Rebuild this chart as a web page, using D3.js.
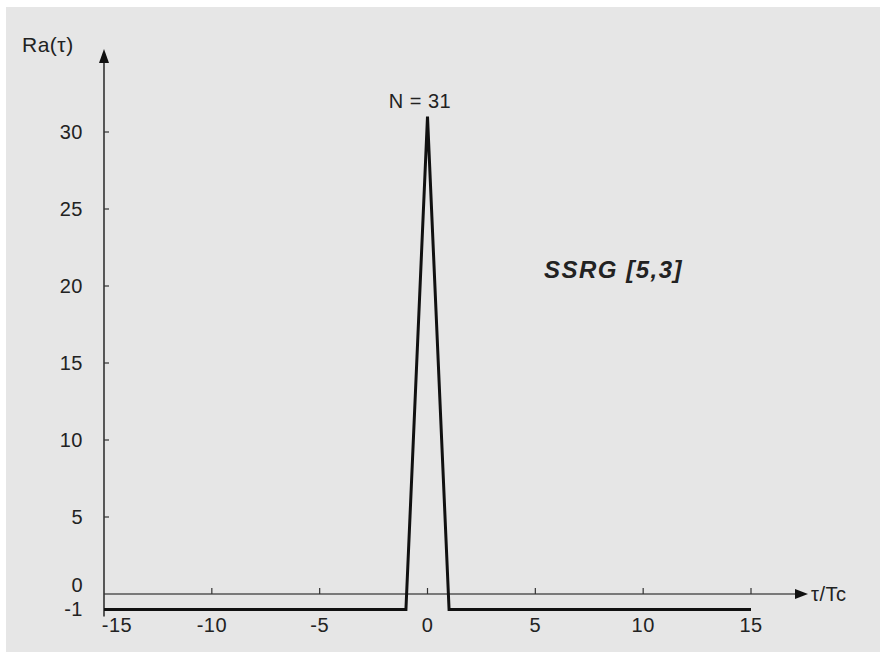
<!DOCTYPE html>
<html>
<head>
<meta charset="utf-8">
<script src="https://cdn.jsdelivr.net/npm/d3@7"></script>
<style>
  html, body { margin: 0; padding: 0; background: #fff; }
  svg { display: block; }
  text { font-family: "Liberation Sans", Arial, sans-serif; fill: #222; }
</style>
</head>
<body>
<div id="chart"></div>
<script>
// autocorrelation of an m-sequence, SSRG [5,3], N = 31
const tauValues = [-15, -1, 0, 1, 15];
const raValues = [-1, -1, 31, -1, -1];
const xTicks = [-15, -10, -5, 0, 5, 10, 15];
const yTicks = [-1, 0, 5, 10, 15, 20, 25, 30];

const width = 880;
const height = 652;

const svg = d3.select("#chart").append("svg").attr("width", width).attr("height", height);

svg.append("rect")
  .attr("x", 6).attr("y", 7)
  .attr("width", width - 6).attr("height", height - 7)
  .attr("fill", "#e6e6e6");

const x = d3.scaleLinear().domain([-15, 15]).range([104, 751]);
const y = d3.scaleLinear().domain([0, 30]).range([594, 132]);

// axes
const axisColor = "#333";
svg.append("line")
  .attr("x1", x(-15)).attr("x2", 796)
  .attr("y1", y(0)).attr("y2", y(0))
  .attr("stroke", "#555").attr("stroke-width", 1.3);
svg.append("path")
  .attr("d", `M808,${y(0)} L795,${y(0) - 5} L795,${y(0) + 5} Z`)
  .attr("fill", "#111");

svg.append("line")
  .attr("x1", x(-15)).attr("x2", x(-15))
  .attr("y1", 62).attr("y2", y(-1) + 7)
  .attr("stroke", axisColor).attr("stroke-width", 1.6);
svg.append("path")
  .attr("d", `M${x(-15)},49 L${x(-15) - 5},63 L${x(-15) + 5},63 Z`)
  .attr("fill", "#111");

// x ticks (upward) and labels
svg.selectAll(".xt").data(xTicks.filter(d => d > -15)).join("line")
  .attr("x1", d => x(d)).attr("x2", d => x(d))
  .attr("y1", y(0)).attr("y2", y(0) - 6)
  .attr("stroke", axisColor).attr("stroke-width", 1.2);
svg.selectAll(".xl").data(xTicks).join("text")
  .attr("x", d => x(d) + (d === -15 ? 13 : 0))
  .attr("y", 632)
  .attr("text-anchor", "middle")
  .attr("font-size", 20)
  .attr("letter-spacing", 0.5)
  .text(d => d);

// y ticks (inward) and labels
svg.selectAll(".yt").data(yTicks.filter(d => d > 0)).join("line")
  .attr("x1", x(-15)).attr("x2", x(-15) + 5)
  .attr("y1", d => y(d)).attr("y2", d => y(d))
  .attr("stroke", axisColor).attr("stroke-width", 1.2);
svg.selectAll(".yl").data(yTicks).join("text")
  .attr("x", 83)
  .attr("y", d => (d === 0 ? 585 : d === -1 ? 609 : y(d)))
  .attr("dy", "0.35em")
  .attr("text-anchor", "end")
  .attr("font-size", 20)
  .attr("letter-spacing", 0.5)
  .text(d => d);

// correlation curve
const line = d3.line().x((d, i) => x(tauValues[i])).y(d => y(d));
svg.append("path")
  .datum(raValues)
  .attr("d", line)
  .attr("fill", "none")
  .attr("stroke", "#111")
  .attr("stroke-width", 3)
  .attr("stroke-linejoin", "miter");

// labels
svg.append("text")
  .attr("x", 22).attr("y", 52)
  .attr("font-size", 21)
  .attr("letter-spacing", 0.5)
  .text("Ra(τ)");
svg.append("text")
  .attr("x", 811).attr("y", y(0) + 7)
  .attr("font-size", 20)
  .attr("letter-spacing", 0.5)
  .text("τ/Tc");
svg.append("text")
  .attr("x", 420).attr("y", 108)
  .attr("text-anchor", "middle")
  .attr("font-size", 20)
  .attr("letter-spacing", 0.5)
  .text("N = 31");
svg.append("text")
  .attr("x", 544).attr("y", 278)
  .attr("font-size", 24)
  .attr("font-weight", "bold")
  .attr("font-style", "italic")
  .attr("letter-spacing", 1.5)
  .text("SSRG [5,3]");
</script>
</body>
</html>
